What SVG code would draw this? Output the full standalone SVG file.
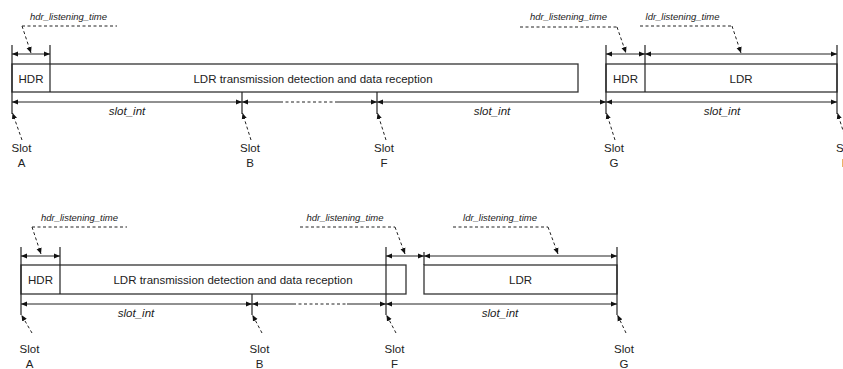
<svg xmlns="http://www.w3.org/2000/svg" width="843" height="369" viewBox="0 0 843 369">
<defs>
<marker id="ah" viewBox="0 0 6 6" refX="6" refY="3" markerWidth="6" markerHeight="6" markerUnits="userSpaceOnUse" orient="auto-start-reverse">
<path d="M0,0.6 L6,3 L0,5.4 Z" fill="#111"/>
</marker>
<marker id="lh" viewBox="0 0 6 6" refX="6" refY="3" markerWidth="6" markerHeight="6" markerUnits="userSpaceOnUse" orient="auto">
<path d="M0,0.4 L6,3 L0,5.6 Z" fill="#111"/>
</marker>
</defs>
<style>
.box{fill:#fff;stroke:#333;stroke-width:1.3}
.tick{stroke:#222;stroke-width:1.2;fill:none}
.dim{stroke:#222;stroke-width:1;fill:none;marker-start:url(#ah);marker-end:url(#ah)}
.dsh{stroke:#222;stroke-width:1;fill:none;stroke-dasharray:3 2.5}
.ldr{stroke:#222;stroke-width:1;fill:none;stroke-dasharray:3 2.5;marker-end:url(#lh)}
.t{font-family:"Liberation Sans",Arial,sans-serif;font-size:11.5px;fill:#222;text-anchor:middle}
.it{font-family:"Liberation Sans",Arial,sans-serif;font-size:9.5px;font-style:italic;fill:#222;text-anchor:middle}
</style>
<rect width="843" height="369" fill="#fff"/>

<!-- ===== Top row ===== -->
<g id="top-hdr-ldr-box">
<rect class="box" x="12" y="64" width="566" height="28"/>
<text class="t" x="31" y="83">HDR</text>
<text class="t" x="313" y="83">LDR transmission detection and data reception</text>
</g>
<g id="top-hdr-ldr-box2">
<rect class="box" x="606" y="64" width="231" height="28"/>
<text class="t" x="625.5" y="83">HDR</text>
<text class="t" x="741" y="83">LDR</text>
</g>
<g id="top-ticks">
<line class="tick" x1="12" y1="45" x2="12" y2="114"/>
<line class="tick" x1="50" y1="45" x2="50" y2="92"/>
<line class="tick" x1="242" y1="92" x2="242" y2="114"/>
<line class="tick" x1="377" y1="92" x2="377" y2="114"/>
<line class="tick" x1="606" y1="45" x2="606" y2="114"/>
<line class="tick" x1="645" y1="45" x2="645" y2="92"/>
<line class="tick" x1="837" y1="45" x2="837" y2="114"/>
</g>
<g id="top-slot-labels">
<text class="t" x="21.5" y="152">Slot</text><text class="t" x="21.5" y="167">A</text>
<text class="t" x="250" y="152">Slot</text><text class="t" x="250" y="167">B</text>
<text class="t" x="384" y="152">Slot</text><text class="t" x="384" y="167">F</text>
<text class="t" x="614" y="152">Slot</text><text class="t" x="614" y="167">G</text>
<text class="t" x="846" y="152">Slot</text><text class="t" x="846" y="167">H</text>
</g>
<g id="top-dim-labels">
<text class="it" x="68.5" y="19.5">hdr_listening_time</text>
<text class="it" x="568.5" y="19.5">hdr_listening_time</text>
<text class="it" x="682.5" y="19.5">ldr_listening_time</text>
<text class="t" x="127" y="115" font-style="italic">slot_int</text>
<text class="t" x="492" y="115" font-style="italic">slot_int</text>
<text class="t" x="722" y="115" font-style="italic">slot_int</text>
</g>

<!-- ===== Bottom row ===== -->
<g id="bot-hdr-ldr-box">
<rect class="box" x="21" y="265" width="385" height="29"/>
<text class="t" x="40.5" y="284">HDR</text>
<text class="t" x="233" y="284">LDR transmission detection and data reception</text>
</g>
<g id="bot-ldr-box">
<rect class="box" x="424" y="265" width="193" height="29"/>
<text class="t" x="520.5" y="284">LDR</text>
</g>
<g id="bot-ticks">
<line class="tick" x1="21" y1="247" x2="21" y2="315"/>
<line class="tick" x1="60" y1="247" x2="60" y2="294"/>
<line class="tick" x1="252" y1="294" x2="252" y2="315"/>
<line class="tick" x1="386" y1="247" x2="386" y2="315"/>
<line class="tick" x1="424" y1="252" x2="424" y2="265"/>
<line class="tick" x1="617" y1="247" x2="617" y2="315"/>
</g>
<g id="bot-slot-labels">
<text class="t" x="29.5" y="353">Slot</text><text class="t" x="29.5" y="368">A</text>
<text class="t" x="259.5" y="353">Slot</text><text class="t" x="259.5" y="368">B</text>
<text class="t" x="394.5" y="353">Slot</text><text class="t" x="394.5" y="368">F</text>
<text class="t" x="624" y="353">Slot</text><text class="t" x="624" y="368">G</text>
</g>
<g id="bot-dim-labels">
<text class="it" x="79.5" y="220.5">hdr_listening_time</text>
<text class="it" x="345" y="220.5">hdr_listening_time</text>
<text class="it" x="500" y="220.5">ldr_listening_time</text>
<text class="t" x="136" y="317" font-style="italic">slot_int</text>
<text class="t" x="500" y="317" font-style="italic">slot_int</text>
</g>

<!-- ===== Connectors ===== -->
<g id="connectors">
<!-- top dimension lines -->
<line class="dim" x1="12" y1="54" x2="50" y2="54"/>
<line class="dim" x1="606" y1="54" x2="645" y2="54"/>
<line class="dim" x1="645" y1="54" x2="837" y2="54"/>
<line class="dim" x1="12" y1="102" x2="242" y2="102"/>
<path class="tick" d="M242,102 H280 M338,102 H377" stroke-width="1"/>
<line class="dsh" x1="280" y1="102" x2="338" y2="102"/>
<path d="M242,102 l6,-2.4 v4.8 Z M377,102 l-6,-2.4 v4.8 Z" fill="#111"/>
<line class="dim" x1="377" y1="102" x2="606" y2="102"/>
<line class="dim" x1="606" y1="102" x2="837" y2="102"/>
<!-- top leaders -->
<line class="dsh" x1="22" y1="26" x2="117" y2="26"/>
<line class="ldr" x1="22" y1="26" x2="31" y2="53"/>
<line class="dsh" x1="520" y1="27" x2="617" y2="27"/>
<line class="ldr" x1="617" y1="27" x2="626" y2="53"/>
<line class="dsh" x1="640" y1="26" x2="732" y2="26"/>
<line class="ldr" x1="732" y1="26" x2="741" y2="53"/>
<line class="ldr" x1="22" y1="140" x2="12.5" y2="113"/>
<line class="ldr" x1="251" y1="140" x2="242.5" y2="113"/>
<line class="ldr" x1="386" y1="140" x2="377.5" y2="113"/>
<line class="ldr" x1="615" y1="140" x2="606.5" y2="113"/>
<line class="ldr" x1="846" y1="140" x2="837.5" y2="113"/>
<!-- bottom dimension lines -->
<line class="dim" x1="21" y1="256" x2="60" y2="256"/>
<line class="dim" x1="386" y1="256" x2="424" y2="256"/>
<line class="dim" x1="424" y1="256" x2="617" y2="256"/>
<line class="dim" x1="21" y1="304" x2="252" y2="304"/>
<path class="tick" d="M252,304 H293 M347,304 H386" stroke-width="1"/>
<line class="dsh" x1="293" y1="304" x2="347" y2="304"/>
<path d="M252,304 l6,-2.4 v4.8 Z M386,304 l-6,-2.4 v4.8 Z" fill="#111"/>
<line class="dim" x1="386" y1="304" x2="617" y2="304"/>
<!-- bottom leaders -->
<line class="dsh" x1="32" y1="227" x2="127" y2="227"/>
<line class="ldr" x1="32" y1="227" x2="41" y2="254"/>
<line class="dsh" x1="300" y1="227" x2="395" y2="227"/>
<line class="ldr" x1="395" y1="227" x2="405" y2="254"/>
<line class="dsh" x1="453" y1="227" x2="548" y2="227"/>
<line class="ldr" x1="548" y1="227" x2="558" y2="254"/>
<line class="ldr" x1="32" y1="333" x2="21.5" y2="315"/>
<line class="ldr" x1="262" y1="333" x2="252.5" y2="315"/>
<line class="ldr" x1="396" y1="333" x2="386.5" y2="315"/>
<line class="ldr" x1="626" y1="333" x2="617.5" y2="315"/>
</g>
</svg>
